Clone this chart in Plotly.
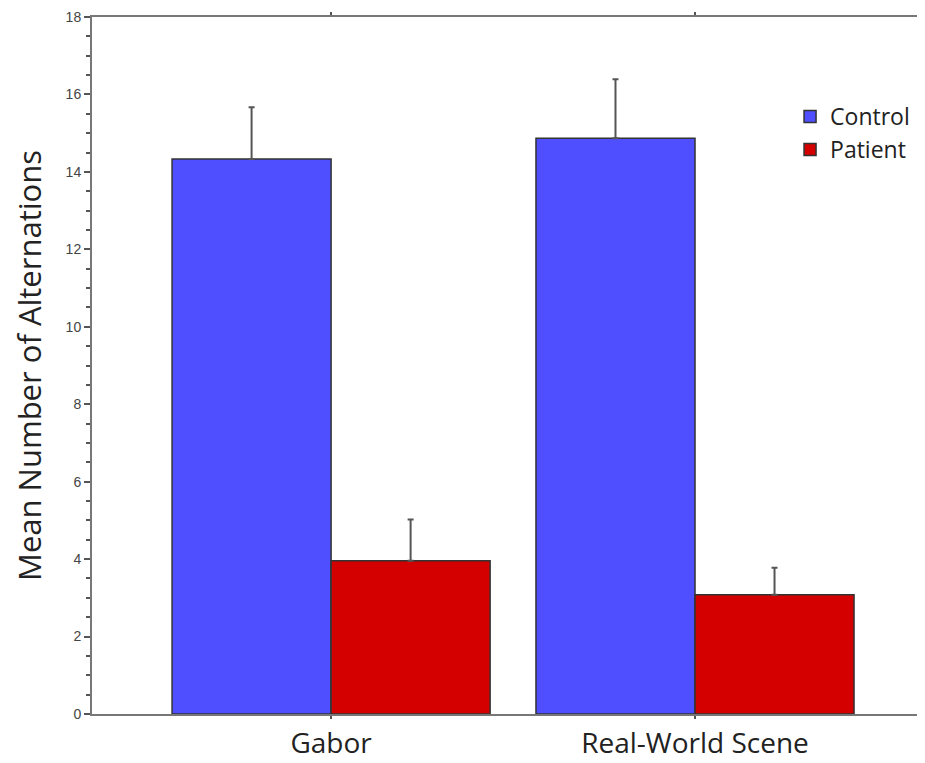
import plotly.graph_objects as go

categories = ["Gabor", "Real-World Scene"]
control_means = [14.33, 14.87]
control_err = [1.34, 1.52]
patient_means = [3.96, 3.08]
patient_err = [1.06, 0.70]
zeros = [0, 0]

fig = go.Figure()
fig.add_trace(go.Bar(
    x=[0, 1], y=control_means, name="Control",
    marker=dict(color="#4F4FFF", line=dict(color="#333333", width=1.5)),
    error_y=dict(type="data", array=control_err, arrayminus=zeros, symmetric=False,
                 color="#555555", thickness=2, width=3),
))
fig.add_trace(go.Bar(
    x=[0, 1], y=patient_means, name="Patient",
    marker=dict(color="#D40000", line=dict(color="#333333", width=1.5)),
    error_y=dict(type="data", array=patient_err, arrayminus=zeros, symmetric=False,
                 color="#555555", thickness=2, width=3),
))

fig.update_layout(
    width=925, height=763,
    margin=dict(l=84, r=8, t=9, b=57, autoexpand=False),
    plot_bgcolor="white", paper_bgcolor="white",
    barmode="group", bargap=0.126, bargroupgap=0,
    legend=dict(x=0.838, y=0.888, xanchor="left", yanchor="top",
                font=dict(family="Open Sans", size=23, color="#222222"),
                bgcolor="rgba(0,0,0,0)", tracegroupgap=1),
    xaxis=dict(
        range=[-0.657, 1.632], tickmode="array", tickvals=[0, 1], ticktext=categories,
        showline=True, linecolor="#777777", linewidth=2, mirror="ticks",
        ticks="outside", ticklen=3, tickcolor="#555555", tickwidth=1.5,
        tickfont=dict(family="Open Sans", size=28, color="#222222"),
        showgrid=False, zeroline=False, automargin=False,
    ),
    yaxis=dict(
        range=[0, 18], tickmode="array", tickvals=list(range(0, 19, 2)),
        showline=True, linecolor="#777777", linewidth=2,
        ticks="outside", ticklen=6, tickcolor="#555555", tickwidth=1.5,
        minor=dict(tickvals=[v / 2 for v in range(0, 37) if v % 4 != 0],
                   ticks="outside", ticklen=4, tickcolor="#555555", tickwidth=1.5),
        tickfont=dict(family="Liberation Sans", size=14, color="#444444"),
        title=dict(text="Mean Number of Alternations",
                   font=dict(family="Open Sans", size=31, color="#222222"), standoff=16),
        showgrid=False, zeroline=False, automargin=False,
    ),
)

fig.write_html("out.html")
